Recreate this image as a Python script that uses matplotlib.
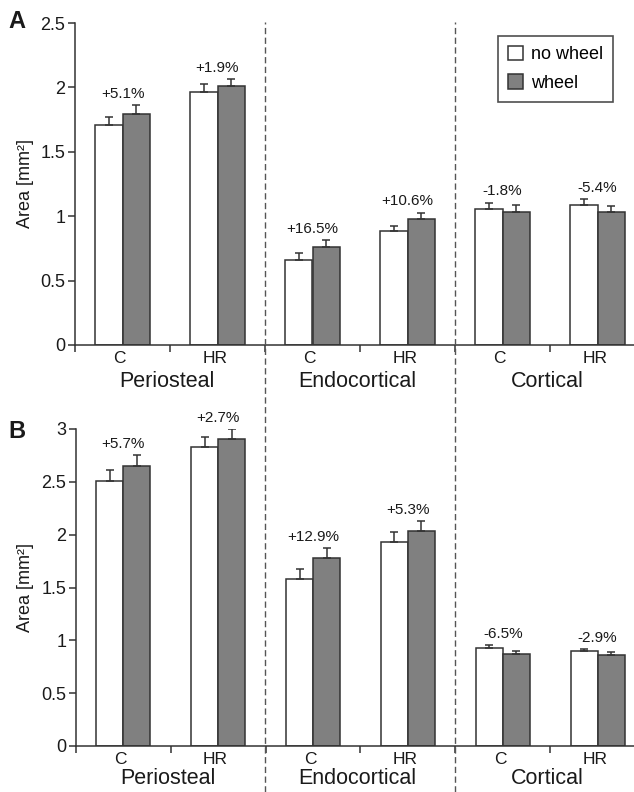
import matplotlib
matplotlib.use("Agg")
import matplotlib.pyplot as plt
import numpy as np
from matplotlib.lines import Line2D
from matplotlib.patches import Patch
import matplotlib.transforms as mtransforms

plt.rcParams['font.family'] = ['Liberation Sans', 'DejaVu Sans']

groups = ['Periosteal', 'Endocortical', 'Cortical']
strains = ['C', 'HR', 'C', 'HR', 'C', 'HR']

A_nowheel = [1.708, 1.968, 0.660, 0.883, 1.057, 1.088]
A_nowheel_err = [0.065, 0.057, 0.051, 0.044, 0.049, 0.046]
A_wheel = [1.796, 2.009, 0.758, 0.976, 1.036, 1.036]
A_wheel_err = [0.065, 0.057, 0.060, 0.052, 0.052, 0.044]
A_pct = ['+5.1%', '+1.9%', '+16.5%', '+10.6%', '-1.8%', '-5.4%']
A_yticks = [0, 0.5, 1, 1.5, 2, 2.5]
A_yticklabels = ['0', '0.5', '1', '1.5', '2', '2.5']

B_nowheel = [2.508, 2.833, 1.577, 1.934, 0.931, 0.899]
B_nowheel_err = [0.104, 0.094, 0.095, 0.091, 0.025, 0.019]
B_wheel = [2.650, 2.905, 1.782, 2.035, 0.874, 0.861]
B_wheel_err = [0.101, 0.098, 0.095, 0.098, 0.028, 0.032]
B_pct = ['+5.7%', '+2.7%', '+12.9%', '+5.3%', '-6.5%', '-2.9%']
B_yticks = [0, 0.5, 1, 1.5, 2, 2.5, 3]
B_yticklabels = ['0', '0.5', '1', '1.5', '2', '2.5', '3']

EDGE = '#333333'
GRAY = '#808080'
TXT = '#1a1a1a'

W, H = 634, 792
fig = plt.figure(figsize=(W / 100, H / 100), dpi=100)

def fx(px):
    return px / W

def fy(py):
    return 1 - py / H

axA = fig.add_axes([fx(75), fy(345), fx(634) - fx(75), fy(23) - fy(345)])
axB = fig.add_axes([fx(76), fy(746), fx(634) - fx(76), fy(429) - fy(746)])

bw = 0.285

def draw(ax, nw, nwe, wh, whe, pct, yticks, yticklabels, ymax, goff):
    n = len(nw)
    x = np.arange(n) + 0.5
    xw = x - bw / 2
    xg = x + bw / 2
    ax.bar(xw, nw, bw, color='white', edgecolor=EDGE, linewidth=1.1, zorder=2)
    ax.bar(xg, wh, bw, color=GRAY, edgecolor=EDGE, linewidth=1.1, zorder=2)
    ax.errorbar(xw, nw, yerr=[np.zeros(n), nwe], fmt='none', ecolor=EDGE,
                elinewidth=1.1, capsize=2.7, capthick=1.1, zorder=3)
    ax.errorbar(xg, wh, yerr=[np.zeros(n), whe], fmt='none', ecolor=EDGE,
                elinewidth=1.1, capsize=2.7, capthick=1.1, zorder=3)
    tops = np.maximum(np.array(nw) + np.array(nwe), np.array(wh) + np.array(whe))
    for xi, t, s in zip(x, tops, pct):
        ax.annotate(s, xy=(xi, t), xytext=(0, 8), textcoords='offset points',
                    ha='center', va='center', fontsize=11, color=TXT)
    ax.set_xlim(0, 559 / 95)
    ax.set_ylim(0, ymax)
    ax.set_yticks(yticks)
    ax.set_yticklabels(yticklabels, fontsize=13, color=TXT)
    ax.set_xticks(np.arange(0, n))
    ax.set_xticklabels([])
    ax.set_xticks(x - 0.03, minor=True)
    ax.set_xticklabels(strains, minor=True, fontsize=12.5, color=TXT)
    ax.tick_params(axis='x', which='major', length=5, width=1.1, color=EDGE, direction='out')
    ax.tick_params(axis='x', which='minor', length=0, pad=4)
    ax.tick_params(axis='y', length=5, width=1.1, color=EDGE, direction='out', pad=2)
    for sp in ['top', 'right']:
        ax.spines[sp].set_visible(False)
    for sp in ['left', 'bottom']:
        ax.spines[sp].set_color(EDGE)
        ax.spines[sp].set_linewidth(1.1)
    for gi, g in enumerate(groups):
        ax.annotate(g, xy=(2 * gi + 1 - 0.03, 0), xycoords=('data', 'axes fraction'),
                    xytext=(0, goff), textcoords='offset points',
                    ha='center', va='baseline', fontsize=15.5, color=TXT)

draw(axA, A_nowheel, A_nowheel_err, A_wheel, A_wheel_err, A_pct, A_yticks, A_yticklabels, 2.5, -30)
draw(axB, B_nowheel, B_nowheel_err, B_wheel, B_wheel_err, B_pct, B_yticks, B_yticklabels, 3.0, -27.5)

# dashed separators spanning both panels
tr = mtransforms.blended_transform_factory(axA.transData, fig.transFigure)
for xs in [2, 4]:
    fig.add_artist(Line2D([xs, xs], [0, fy(22)], transform=tr, color='#555555',
                          linewidth=1.0, linestyle=(0, (4.5, 2.5))))

fig.text(fx(25), fy(183), 'Area [mm²]', rotation=90, ha='center', va='center', fontsize=13, color=TXT)
fig.text(fx(25), fy(588), 'Area [mm²]', rotation=90, ha='center', va='center', fontsize=13, color=TXT)
fig.text(fx(17), fy(21), 'A', ha='center', va='center', fontsize=17, fontweight='bold', color=TXT)
fig.text(fx(17), fy(432), 'B', ha='center', va='center', fontsize=17, fontweight='bold', color=TXT)

handles = [Patch(facecolor='white', edgecolor=EDGE, linewidth=1.1, label='no wheel'),
           Patch(facecolor=GRAY, edgecolor=EDGE, linewidth=1.1, label='wheel')]
leg = fig.legend(handles=handles, loc='upper left', bbox_to_anchor=(fx(498), fy(36)),
                 fontsize=13, frameon=True, fancybox=False, handlelength=0.85,
                 handleheight=0.85, handletextpad=0.45, borderpad=0.55, labelspacing=0.6,
                 borderaxespad=0)
leg.get_frame().set_edgecolor('#222222')
leg.get_frame().set_linewidth(1.2)

fig.savefig('out.png', dpi=100)
